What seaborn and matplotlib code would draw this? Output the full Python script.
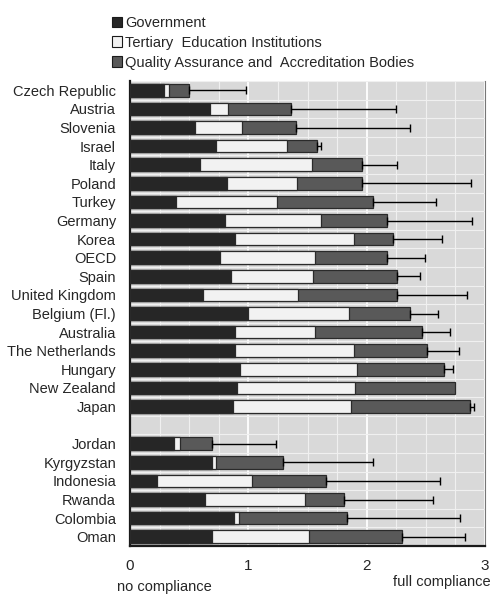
"""
Compliance with quality assurance standards - stacked bars by actor
"""

import numpy as np
import pandas as pd
import matplotlib
matplotlib.use("Agg")
import matplotlib.pyplot as plt
from matplotlib.patches import Patch
from matplotlib.ticker import MultipleLocator
import seaborn as sns

# Data
countries = ['Czech Republic', 'Austria', 'Slovenia', 'Israel', 'Italy', 'Poland',
             'Turkey', 'Germany', 'Korea', 'OECD', 'Spain', 'United Kingdom',
             'Belgium (Fl.)', 'Australia', 'The Netherlands', 'Hungary',
             'New Zealand', 'Japan',
             'Jordan', 'Kyrgyzstan', 'Indonesia', 'Rwanda', 'Colombia', 'Oman']
government = [0.29, 0.68, 0.55, 0.73, 0.59, 0.82, 0.39, 0.80, 0.89, 0.76, 0.85, 0.62,
              1.00, 0.89, 0.89, 0.93, 0.90, 0.87,
              0.37, 0.69, 0.23, 0.63, 0.88, 0.69]
tertiary = [0.04, 0.15, 0.40, 0.60, 0.95, 0.59, 0.85, 0.81, 1.00, 0.80, 0.70, 0.80,
            0.85, 0.67, 1.00, 0.99, 1.00, 1.00,
            0.05, 0.04, 0.80, 0.85, 0.04, 0.82]
qa_bodies = [0.17, 0.53, 0.45, 0.25, 0.42, 0.55, 0.81, 0.56, 0.33, 0.61, 0.71, 0.84,
             0.52, 0.91, 0.62, 0.73, 0.85, 1.00,
             0.27, 0.56, 0.63, 0.33, 0.91, 0.79]
upper = [0.98, 2.25, 2.37, 1.61, 2.26, 2.88, 2.59, 2.89, 2.64, 2.49, 2.45, 2.85,
         2.60, 2.70, 2.78, 2.73, np.nan, 2.91,
         1.23, 2.05, 2.62, 2.56, 2.79, 2.83]

n_oecd = 18
order = countries[:n_oecd] + [' '] + countries[n_oecd:]

df = pd.DataFrame({'country': countries, 'gov': government,
                   'ter': tertiary, 'qa': qa_bodies, 'upper': upper})
df['c1'] = df['gov']
df['c2'] = df['gov'] + df['ter']
df['c3'] = df['c2'] + df['qa']

colors = {'gov': '#262626', 'ter': '#f2f2f2', 'qa': '#595959'}
labels = {'gov': 'Government', 'ter': 'Tertiary  Education Institutions',
          'qa': 'Quality Assurance and  Accreditation Bodies'}

sns.set_style("white", {'axes.facecolor': '#d9d9d9'})
plt.rcParams['font.family'] = ['Liberation Sans', 'DejaVu Sans']

fig, ax = plt.subplots(figsize=(4.95, 5.94), dpi=100)
fig.subplots_adjust(left=130 / 495, right=485 / 495, top=1 - 81 / 594, bottom=1 - 546 / 594)

# cumulative bars, longest first so the shorter ones sit on top
for col, key in [('c3', 'qa'), ('c2', 'ter'), ('c1', 'gov')]:
    sns.barplot(data=df, x=col, y='country', order=order, orient='h',
                color=colors[key], saturation=1, width=0.68,
                edgecolor='#2a2a2a', linewidth=0.9, ax=ax, zorder=3)

# one-sided error bars from the end of each bar
eb = df.dropna(subset=['upper'])
ypos = [order.index(c) for c in eb['country']]
ax.errorbar(eb['c3'], ypos, xerr=[np.zeros(len(eb)), eb['upper'] - eb['c3']],
            fmt='none', ecolor='black', elinewidth=1, capsize=3, capthick=1, zorder=4)

ax.set_xlim(0, 3)
ax.set_ylim(len(order) - 0.5, -0.5)
ax.xaxis.set_major_locator(MultipleLocator(1))
ax.xaxis.set_minor_locator(MultipleLocator(0.25))
ax.set_yticks(range(len(order)))
ax.set_yticks(np.arange(-0.5, len(order), 1), minor=True)
ax.set_yticklabels(order, fontsize=10.5)
ax.grid(True, which='major', axis='x', color='white', lw=1.3, zorder=0)
ax.grid(True, which='minor', axis='both', color='#f0f0f0', lw=0.8, zorder=0)
ax.set_axisbelow(True)
ax.tick_params(axis='both', which='both', length=0)
ax.tick_params(axis='x', labelsize=11, pad=9)
ax.tick_params(axis='y', pad=10)
ax.set_xlabel('')
ax.set_ylabel('')

for side in ['left', 'bottom']:
    ax.spines[side].set_color('#1a1a1a')
    ax.spines[side].set_linewidth(1.6)
ax.spines['right'].set_color('#777777')
ax.spines['right'].set_linewidth(0.8)
ax.spines['top'].set_visible(False)

handles = [Patch(facecolor=colors[k], edgecolor='#1a1a1a', lw=0.8, label=labels[k])
           for k in ['gov', 'ter', 'qa']]
fig.legend(handles=handles, loc='upper left', bbox_to_anchor=(106 / 495, 1 - 10 / 594),
           frameon=False, fontsize=10.5, handlelength=0.7, handleheight=0.7,
           handletextpad=0.2, labelspacing=0.4, borderaxespad=0)

fig.text(164 / 495, 1 - 587 / 594, 'no compliance', ha='center', va='center', fontsize=10.5)
fig.text(491 / 495, 1 - 582 / 594, 'full compliance', ha='right', va='center', fontsize=10.5)

plt.savefig('out.png', dpi=100)
plt.close()
